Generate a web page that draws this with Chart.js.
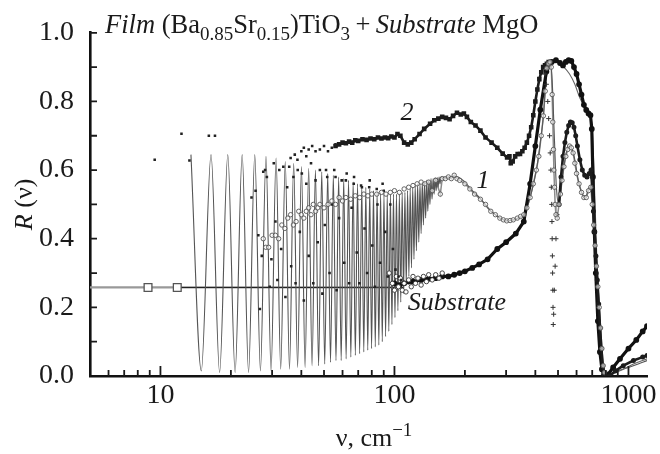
<!DOCTYPE html>
<html>
<head>
<meta charset="utf-8">
<script src="https://cdn.jsdelivr.net/npm/chart.js@4.4.1/dist/chart.umd.min.js"></script>
<style>
  html, body { margin: 0; padding: 0; background: #fff; }
  #wrap { width: 660px; height: 454px; position: relative; }
</style>
</head>
<body>
<div id="wrap"><canvas id="chart"></canvas></div>
<script>
// axis ticks
const xMajorTicks = [10, 100, 1000];
const xMinorTicks = [6, 7, 8, 9, 20, 30, 40, 50, 60, 70, 80, 90, 200, 300, 400, 500, 600, 700, 800, 900];
const yTicks = [0.1, 0.2, 0.3, 0.4, 0.5, 0.6, 0.7, 0.8, 0.9, 1.0];

// film fit: interference fringes, then curve 1 shape
const fitNu = [13.5, 14.95, 16.45, 17.9, 19.4, 20.85, 22.35, 23.8, 25.3, 26.75, 28.25, 29.7, 31.2, 32.65, 34.15, 35.6,
  37.1, 38.55, 40.05, 41.5, 43.0, 44.45, 45.95, 47.4, 48.9, 50.35, 51.85, 53.3, 54.8, 56.25, 57.75, 59.2, 60.7, 62.15,
  63.65, 65.1, 66.6, 68.05, 69.55, 71.0, 72.5, 73.95, 75.45, 76.9, 78.4, 79.85, 81.35, 82.8, 84.3, 85.75, 87.25, 88.7,
  90.2, 91.65, 93.15, 94.6, 96.1, 97.55, 99.05, 100.5, 102.0, 103.45, 104.95, 106.4, 107.9, 109.35, 110.85, 112.3,
  113.8, 115.25, 116.75, 118.2, 119.7, 121.15, 122.65, 124.1, 125.6, 127.05, 128.55, 130.0, 131.5, 132.95, 134.45,
  135.9, 137.4, 138.85, 140.35, 141.8, 143.3, 144.75, 146.25, 147.7, 149.2, 150.65, 152.15, 153.6, 155.1, 156.55,
  158.05, 165, 175, 185, 200, 215, 233, 250, 270, 292, 312, 335, 357, 380, 404, 420, 433, 448, 462, 472, 482, 492,
  505, 520, 540, 555, 570, 590, 610, 635, 655, 680, 700, 720, 740, 760, 780, 800, 840, 900, 1000, 1100, 1200];
const fitR = [0.645, 0.015, 0.645, 0.01, 0.645, 0.01, 0.645, 0.01, 0.645, 0.015, 0.64, 0.015, 0.635, 0.02, 0.625, 0.02,
  0.62, 0.025, 0.61, 0.025, 0.605, 0.03, 0.6, 0.03, 0.595, 0.035, 0.59, 0.04, 0.585, 0.045, 0.58, 0.045, 0.575, 0.05,
  0.57, 0.055, 0.565, 0.06, 0.56, 0.065, 0.555, 0.07, 0.55, 0.075, 0.545, 0.08, 0.54, 0.085, 0.535, 0.09, 0.535, 0.1,
  0.53, 0.115, 0.53, 0.13, 0.53, 0.15, 0.53, 0.17, 0.53, 0.19, 0.53, 0.215, 0.535, 0.24, 0.535, 0.265,
  0.54, 0.29, 0.545, 0.315, 0.55, 0.34, 0.555, 0.365, 0.56, 0.39, 0.56, 0.415, 0.565, 0.44, 0.565,
  0.46, 0.57, 0.48, 0.57, 0.5, 0.575, 0.515, 0.575, 0.53, 0.578, 0.54, 0.578, 0.55, 0.58, 0.56,
  0.58, 0.578, 0.58, 0.58, 0.565, 0.54, 0.517, 0.49, 0.47, 0.455, 0.453, 0.458, 0.47, 0.52, 0.6, 0.68, 0.758, 0.897, 0.915, 0.86, 0.7, 0.55,
  0.5, 0.57, 0.645, 0.67, 0.665, 0.63, 0.57, 0.53, 0.52, 0.55, 0.52, 0.42, 0.28, 0.13, 0.03, 0.0, 0.005, 0.015, 0.025, 0.035, 0.045];

// film, curve 1 data (open circles)
const film1Nu = [27.5, 28.2, 29, 30, 31, 32, 33, 34, 35, 36, 37, 38, 39, 40, 41, 42, 43, 44, 45, 46, 47, 48, 50, 52, 54,
  56, 58, 60, 62, 65, 68, 71, 74, 77, 80, 84, 88, 92, 96, 100, 105, 110, 115, 120, 125, 130, 135, 140, 145, 150, 157,
  160, 165, 170, 175, 180, 185, 190, 200, 210, 220, 233, 245, 258, 270, 282, 292, 302, 312, 322, 335, 346, 357, 368,
  380, 392, 404, 414, 424, 433, 441, 448, 455, 462, 468, 472, 475, 478, 480, 483, 486, 490, 496, 505, 512, 520, 530,
  540, 550, 560, 570, 580, 590, 600, 615, 630, 645, 660, 675, 690, 700, 710, 720, 730, 740, 750, 760, 770, 780, 790];
const film1R = [0.40, 0.375, 0.375, 0.41, 0.41, 0.40, 0.44, 0.43, 0.46, 0.47, 0.44, 0.45, 0.48, 0.47, 0.46, 0.48, 0.49,
  0.47, 0.50, 0.48, 0.49, 0.50, 0.49, 0.50, 0.51, 0.50, 0.52, 0.51, 0.52, 0.515, 0.525, 0.52, 0.53, 0.525, 0.53, 0.53,
  0.535, 0.53, 0.535, 0.54, 0.535, 0.545, 0.55, 0.555, 0.56, 0.565, 0.56, 0.565, 0.54, 0.57, 0.53, 0.575, 0.575, 0.58,
  0.575, 0.585, 0.575, 0.57, 0.56, 0.545, 0.53, 0.515, 0.5, 0.48, 0.47, 0.46, 0.455, 0.452, 0.453, 0.455, 0.46, 0.465,
  0.47, 0.49, 0.52, 0.56, 0.6, 0.64, 0.7, 0.758, 0.83, 0.897, 0.91, 0.915, 0.9, 0.82, 0.74, 0.66, 0.6, 0.55, 0.5, 0.47,
  0.46, 0.5, 0.53, 0.57, 0.61, 0.64, 0.66, 0.67, 0.665, 0.65, 0.62, 0.59, 0.56, 0.535, 0.52, 0.52, 0.54, 0.55, 0.5,
  0.44, 0.38, 0.32, 0.26, 0.2, 0.14, 0.08, 0.03, 0.01];

// curve 2: sparse start, then dense dark line
const film2DotNu = [36, 37.5, 38.5, 40, 41, 42, 43, 44.5, 46, 48, 50, 52, 54, 56];
const film2DotR = [0.635, 0.645, 0.63, 0.655, 0.665, 0.64, 0.66, 0.67, 0.655, 0.66, 0.67, 0.655, 0.665, 0.675];
const film2Nu = [56, 58, 60, 62, 64, 66, 68, 70, 73, 76, 79,
  82, 85, 88, 91, 94, 97, 100, 103, 106, 110, 114, 118, 122, 128, 134, 142, 148, 154, 160, 166, 172, 178, 185, 192,
  198, 204, 212, 222, 233, 245, 260, 275, 290, 303, 310, 314, 320, 328, 336, 344, 352, 360, 368, 376, 384, 392, 400,
  408, 416, 424, 432, 440, 448, 456, 464];
const film2R = [0.67, 0.675, 0.68,
  0.678, 0.683, 0.68, 0.687, 0.685, 0.69, 0.688, 0.692, 0.69, 0.695, 0.692, 0.695, 0.693, 0.698, 0.695, 0.705, 0.7,
  0.68, 0.675, 0.68, 0.69, 0.705, 0.72, 0.735, 0.745, 0.75, 0.755, 0.752, 0.748, 0.758, 0.767, 0.762, 0.765, 0.755,
  0.74, 0.73, 0.715, 0.695, 0.68, 0.665, 0.648, 0.637, 0.64, 0.62, 0.625, 0.64, 0.647, 0.647, 0.655, 0.665, 0.68,
  0.7, 0.725, 0.76, 0.8, 0.835, 0.865, 0.885, 0.9, 0.905, 0.91, 0.915, 0.915];

// curve 2 upper hump and fall
const humpNu = [505, 515, 525, 535, 545, 555, 565, 575, 585, 595, 605, 620, 635, 650, 665, 680, 692, 700, 708, 716, 726,
  736, 746, 756, 766, 776, 786, 800, 830, 880, 950, 1050, 1150, 1200];
const humpR = [0.5, 0.58, 0.64, 0.68, 0.71, 0.73, 0.74, 0.738, 0.725, 0.7, 0.67, 0.63, 0.6, 0.585, 0.58, 0.59, 0.6,
  0.55, 0.48, 0.42, 0.35, 0.28, 0.21, 0.14, 0.08, 0.03, 0.005, 0.0, 0.0, 0.015, 0.03, 0.045, 0.055, 0.06];

// '+' markers of the sharp dip near 480
const dipNu = [440, 446, 452, 456, 460, 463, 466, 468, 470, 471, 472, 473, 474, 475, 476, 477, 479, 482, 486, 490, 495];
const dipR = [0.88, 0.85, 0.8, 0.75, 0.7, 0.65, 0.6, 0.55, 0.5, 0.45, 0.4, 0.35, 0.3, 0.25, 0.2, 0.15, 0.18, 0.25,
  0.32, 0.4, 0.47];

// substrate data
const subNu = [100, 105, 110, 115, 120, 130, 140, 150, 160, 170, 180, 190, 200, 215, 230, 250, 275, 300, 330, 357, 380,
  400, 420, 446, 470, 490, 510, 525, 540, 555, 570, 585, 600, 615, 630, 645, 660, 675, 688, 697, 705, 715, 725, 740,
  755, 770, 785, 800, 820, 860, 920, 1000, 1080, 1150, 1200];
const subR = [0.27, 0.265, 0.27, 0.275, 0.275, 0.28, 0.283, 0.285, 0.29, 0.29, 0.295, 0.3, 0.305, 0.315, 0.325, 0.34,
  0.37, 0.39, 0.415, 0.45, 0.56, 0.67, 0.776, 0.887, 0.915, 0.92, 0.912, 0.905, 0.915, 0.92, 0.918, 0.9, 0.88, 0.85,
  0.82, 0.79, 0.775, 0.765, 0.76, 0.72, 0.58, 0.42, 0.3, 0.16, 0.07, 0.02, 0.0, 0.0, 0.005, 0.025, 0.05, 0.08, 0.105,
  0.13, 0.145];

// substrate fit (thin smooth line)
const subFitNu = [470, 500, 530, 560, 590, 620, 650, 680, 700, 720, 740, 760, 780, 800, 850, 950, 1050, 1200];
const subFitR = [0.92, 0.915, 0.9, 0.88, 0.85, 0.81, 0.785, 0.77, 0.72, 0.5, 0.25, 0.08, 0.01, 0.0, 0.005, 0.02, 0.035, 0.05];

// substrate scatter near 100-160
const subDotNu = [95, 98, 100, 102, 104, 106, 108, 110, 112, 115, 118, 120, 123, 126, 130, 133, 137, 140, 145, 150, 155, 160];
const subDotR = [0.3, 0.27, 0.25, 0.29, 0.26, 0.285, 0.25, 0.27, 0.245, 0.28, 0.26, 0.29, 0.27, 0.285, 0.265, 0.29,
  0.275, 0.295, 0.28, 0.295, 0.285, 0.3];

// low-frequency substrate level
const subLowNu = [5, 110];
const subLowR = [0.258, 0.258];
const squareNu = [8.85, 11.8];
const squareR = [0.258, 0.258];

// scattered low-frequency film points
const lowNu = [9.45, 12.3, 13.3, 16.1, 17.1, 24.5, 25.5, 26.2, 26.6, 27.1, 27.5, 28.0, 28.5, 29.3, 29.8, 30.5, 31.0,
  31.6, 32.2, 32.8, 33.5, 34.2, 34.8, 35.5, 36.2, 37.0, 37.8, 38.6, 39.4, 40.2, 41.0, 42.0, 43.0, 44.0, 45.0, 46.0,
  47.0, 48.0, 49.2, 50.4, 51.6, 52.8, 54.0, 55.3, 56.6, 58.0, 59.5, 61.0, 62.5, 64.0, 65.6, 67.2, 69.0, 70.8, 72.6,
  74.5, 76.4, 78.4, 80.4, 82.5, 84.6, 86.8, 89.0, 91.3, 93.6, 96.0, 98.5, 101, 104, 107, 51, 56, 62, 67, 72, 78, 84, 90];
const lowR = [0.63, 0.706, 0.628, 0.70, 0.70, 0.52, 0.54, 0.41, 0.195, 0.35, 0.595, 0.6, 0.58, 0.26, 0.34, 0.62, 0.45,
  0.28, 0.6, 0.37, 0.61, 0.23, 0.55, 0.61, 0.32, 0.58, 0.27, 0.6, 0.42, 0.59, 0.22, 0.56, 0.35, 0.62, 0.27, 0.57, 0.39,
  0.6, 0.24, 0.44, 0.58, 0.3, 0.5, 0.6, 0.25, 0.46, 0.57, 0.33, 0.59, 0.27, 0.49, 0.58, 0.36, 0.27, 0.55, 0.43, 0.3,
  0.57, 0.38, 0.26, 0.5, 0.33, 0.56, 0.42, 0.29, 0.5, 0.37, 0.31, 0.29, 0.28, 0.6, 0.58, 0.57, 0.56, 0.555, 0.55, 0.545, 0.54];

const pts = (xs, ys) => xs.map((v, i) => ({ x: v, y: ys[i] }));
const serif = 'Liberation Serif';
Chart.defaults.font.family = serif;

// inward tick marks, axis titles, curve labels and headline
const decorations = {
  id: 'decorations',
  afterDraw(chart) {
    const { ctx, chartArea: a } = chart;
    const x = chart.scales.x, y = chart.scales.y;
    ctx.save();
    ctx.strokeStyle = '#1a1a1a';
    ctx.lineWidth = 1.8;
    ctx.beginPath();
    xMinorTicks.forEach(v => { const p = x.getPixelForValue(v); ctx.moveTo(p, a.bottom); ctx.lineTo(p, a.bottom - 6); });
    xMajorTicks.forEach(v => { const p = x.getPixelForValue(v); ctx.moveTo(p, a.bottom); ctx.lineTo(p, a.bottom - 10); });
    yTicks.forEach(v => { const p = y.getPixelForValue(v); ctx.moveTo(a.left, p); ctx.lineTo(a.left + 7, p); });
    ctx.stroke();

    ctx.fillStyle = '#1a1a1a';
    ctx.textBaseline = 'alphabetic';
    // pieces: [text, italic, sub, sup]
    const run = (parts, x0, y0, size) => {
      let cx = x0;
      parts.forEach(([t, it, sub, sup]) => {
        const fs = (sub || sup) ? Math.round(size * 0.72) : size;
        ctx.font = (it ? 'italic ' : '') + fs + 'px ' + serif;
        const dy = sub ? size * 0.28 : (sup ? -size * 0.4 : 0);
        ctx.fillText(t, cx, y0 + dy);
        cx += ctx.measureText(t).width;
      });
      return cx - x0;
    };
    const width = (parts, size) => {
      let w = 0;
      parts.forEach(([t, it, sub, sup]) => {
        const fs = (sub || sup) ? Math.round(size * 0.72) : size;
        ctx.font = (it ? 'italic ' : '') + fs + 'px ' + serif;
        w += ctx.measureText(t).width;
      });
      return w;
    };

    run([['Film', true], [' (Ba'], ['0.85', false, true], ['Sr'], ['0.15', false, true], [')TiO'], ['3', false, true],
      ['\u2009+\u2009'], ['Substrate', true], [' MgO']], 105, 33, 26.5);

    // curve labels
    ctx.font = 'italic 26px ' + serif;
    ctx.textAlign = 'center';
    ctx.textBaseline = 'middle';
    ctx.fillText('2', x.getPixelForValue(113), y.getPixelForValue(0.767));
    ctx.fillText('1', x.getPixelForValue(239), y.getPixelForValue(0.567));
    ctx.fillText('Substrate', x.getPixelForValue(185), y.getPixelForValue(0.211));

    // x axis title
    ctx.textAlign = 'left';
    ctx.textBaseline = 'alphabetic';
    const xt = [['ν, cm'], ['−1', false, false, true]];
    run(xt, 374 - width(xt, 26) / 2, 446, 26);

    // y axis title
    ctx.save();
    ctx.translate(32, (a.top + a.bottom) / 2);
    ctx.rotate(-Math.PI / 2);
    const yt = [['R', true], [' (ν)']];
    run(yt, -width(yt, 26) / 2, 0, 26);
    ctx.restore();
    ctx.restore();
  }
};

const line = (data, color, w, extra) => Object.assign({
  data, showLine: true, borderColor: color, borderWidth: w, pointRadius: 0, fill: false
}, extra || {});

new Chart(document.getElementById('chart'), {
  type: 'scatter',
  data: {
    datasets: [
      Object.assign(line(pts(squareNu, squareR), '#444', 1.2), { showLine: false, pointStyle: 'rect', pointRadius: 5.5,
        pointBackgroundColor: '#fff', pointBorderColor: '#555', pointBorderWidth: 1.3, order: 0 }),
      line(pts(subLowNu, subLowR), '#999', 2.2, { order: 9 }),
      line(pts([11.8, 110], squareR), '#222', 1.1, { order: 8 }),
      line(pts(fitNu, fitR), '#555', 1.1, { cubicInterpolationMode: 'monotone', order: 7 }),
      { data: pts(lowNu, lowR), pointStyle: 'rect', pointRadius: 1.8, pointBackgroundColor: '#222',
        pointBorderColor: '#222', borderWidth: 0, order: 3 },
      { data: pts(film1Nu, film1R), pointStyle: 'circle', pointRadius: 2.2, pointBackgroundColor: 'rgba(255,255,255,0.6)',
        pointBorderColor: '#555', pointBorderWidth: 0.9, order: 2 },
      line(pts(film1Nu.slice(46), film1R.slice(46)), 'rgba(90,90,90,0.7)', 1.5, { order: 6 }),
      { data: pts(film2DotNu, film2DotR), pointStyle: 'rect', pointRadius: 1.8, pointBackgroundColor: '#222',
        pointBorderColor: '#222', borderWidth: 0, order: 3 },
      line(pts(film2Nu, film2R), '#1c1c1c', 2.6, { pointRadius: 1.4, pointStyle: 'rect', pointBackgroundColor: '#1c1c1c', order: 4 }),
      line(pts(humpNu, humpR), '#1c1c1c', 2.6, { pointRadius: 1.2, pointBackgroundColor: '#1c1c1c', order: 4 }),
      { data: pts(dipNu, dipR), pointStyle: 'cross', pointRadius: 2.5, pointBorderColor: '#333',
        pointBorderWidth: 1, order: 3 },
      line(pts(subNu, subR), '#111', 3.2, { pointRadius: 1.3, pointBackgroundColor: '#111', order: 5 }),
      line(pts(subFitNu, subFitR), '#666', 1.1, { cubicInterpolationMode: 'monotone', order: 6 }),
      { data: pts(subDotNu, subDotR), pointStyle: 'circle', pointRadius: 2.2, pointBackgroundColor: '#fff',
        pointBorderColor: '#333', pointBorderWidth: 0.9, order: 3 }
    ]
  },
  options: {
    responsive: true,
    maintainAspectRatio: false,
    animation: false,
    layout: { padding: { top: 16, right: 13, left: 0, bottom: 0 } },
    plugins: { legend: { display: false }, tooltip: { enabled: false } },
    scales: {
      x: {
        type: 'logarithmic',
        min: 5,
        max: 1200,
        afterFit: s => { s.height = 78; },
        afterBuildTicks: s => { s.ticks = xMajorTicks.map(v => ({ value: v })); },
        grid: { display: false, drawTicks: false },
        border: { display: true, color: '#111', width: 2.6 },
        ticks: { color: '#1a1a1a', font: { size: 28 }, padding: 3, maxRotation: 0, autoSkip: false,
          callback: v => String(v) }
      },
      y: {
        min: 0,
        max: 1.0,
        afterFit: s => { s.width = 90; },
        grid: { display: false, drawTicks: false },
        border: { display: true, color: '#111', width: 2.6 },
        ticks: { stepSize: 0.2, color: '#1a1a1a', font: { size: 28 }, padding: 16,
          callback: v => v.toFixed(1) }
      }
    }
  },
  plugins: [decorations]
});
</script>
</body>
</html>
